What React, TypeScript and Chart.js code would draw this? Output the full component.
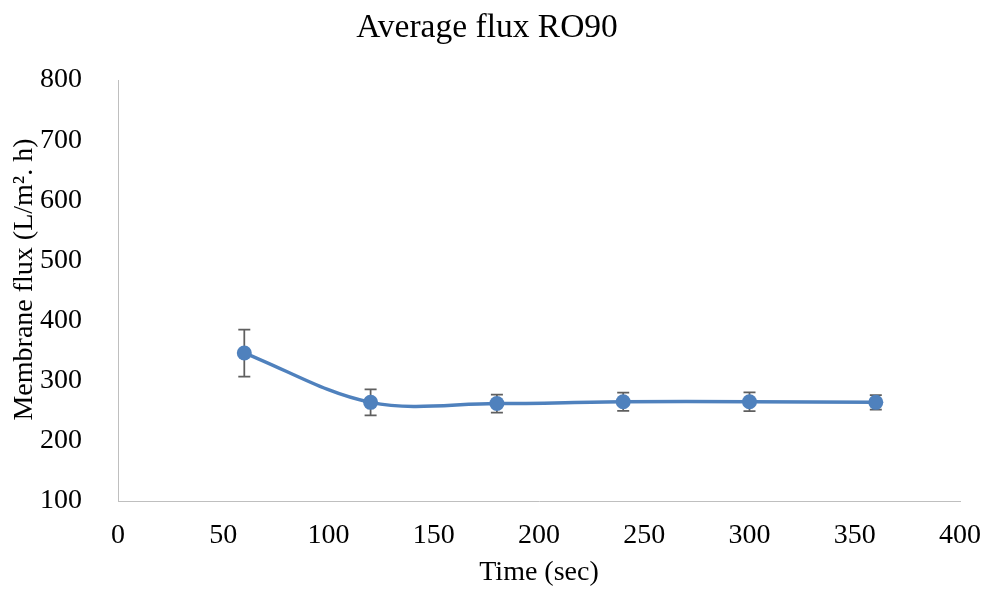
import React, { useEffect, useRef } from 'react';
import { Chart, registerables } from 'chart.js';

Chart.register(...registerables);

const chartTitle = 'Average flux RO90';
const xAxisTitle = 'Time (sec)';
const yAxisTitle = 'Membrane flux (L/m\u00B2. h)';
const timeSec = [60, 120, 180, 240, 300, 360];
const fluxMean = [346, 264, 262, 265, 265, 264];
const fluxErr = [39, 21.5, 15, 15, 15.5, 12];
const xMin = 0, xMax = 400, xStep = 50;
const yMin = 100, yMax = 800, yStep = 100;

const FONT = "'Liberation Serif', 'Times New Roman', serif";
const LINE_COLOR = '#4F81BD';
const ERR_COLOR = '#5f5f5f';
const AXIS_COLOR = '#BFBFBF';

const errorBarPlugin = {
  id: 'errorBars',
  beforeDatasetsDraw(chart: any) {
    const meta = chart.getDatasetMeta(0);
    const yScale = chart.scales.y;
    const ctx = chart.ctx;
    ctx.save();
    ctx.strokeStyle = ERR_COLOR;
    ctx.lineWidth = 1.75;
    meta.data.forEach((pt: any, i: number) => {
      const x = pt.x;
      const yTop = yScale.getPixelForValue(fluxMean[i] + fluxErr[i]);
      const yBot = yScale.getPixelForValue(fluxMean[i] - fluxErr[i]);
      const cap = 6;
      ctx.beginPath();
      ctx.moveTo(x, yTop);
      ctx.lineTo(x, yBot);
      ctx.moveTo(x - cap, yTop);
      ctx.lineTo(x + cap, yTop);
      ctx.moveTo(x - cap, yBot);
      ctx.lineTo(x + cap, yBot);
      ctx.stroke();
    });
    ctx.restore();
  },
};

const yTitlePlugin = {
  id: 'yTitle',
  afterDraw(chart: any) {
    const ctx = chart.ctx;
    const area = chart.chartArea;
    ctx.save();
    ctx.fillStyle = '#000';
    ctx.font = `28px ${FONT}`;
    ctx.textAlign = 'center';
    ctx.textBaseline = 'middle';
    ctx.translate(25, (area.top + area.bottom) / 2 - 11);
    ctx.rotate(-Math.PI / 2);
    ctx.fillText(yAxisTitle, 0, 0);
    ctx.restore();
  },
};

export default function App() {
  const ref = useRef<HTMLCanvasElement>(null);

  useEffect(() => {
    document.body.style.margin = '0';
    const canvas = ref.current;
    if (!canvas) return;
    const chart = new Chart(canvas, {
      type: 'line',
      data: {
        datasets: [
          {
            data: timeSec.map((t, i) => ({ x: t, y: fluxMean[i] })),
            borderColor: LINE_COLOR,
            backgroundColor: LINE_COLOR,
            borderWidth: 3.5,
            pointRadius: 7.5,
            pointBorderWidth: 0,
            pointBackgroundColor: LINE_COLOR,
            tension: 0.35,
            fill: false,
          },
        ],
      },
      options: {
        responsive: false,
        animation: false,
        devicePixelRatio: 1,
        layout: { padding: { left: 0, right: 10, top: 0, bottom: 0 } },
        plugins: {
          legend: { display: false },
          tooltip: { enabled: false },
          title: {
            display: true,
            text: chartTitle,
            color: '#000',
            font: { family: FONT, size: 33.5, weight: 'normal', lineHeight: 1.2 },
            padding: { top: 8, bottom: 31.8 },
            align: 'center',
          },
        },
        scales: {
          x: {
            type: 'linear',
            min: xMin,
            max: xMax,
            grid: { display: false, drawTicks: false },
            border: { display: true, color: AXIS_COLOR, width: 1 },
            ticks: {
              stepSize: xStep,
              color: '#000',
              font: { family: FONT, size: 28 },
              padding: 18,
              maxRotation: 0,
            },
            title: {
              display: true,
              text: xAxisTitle,
              color: '#000',
              font: { family: FONT, size: 28 },
              padding: { top: 0, bottom: 0 },
            },
            afterFit(scale: any) {
              scale.height = 88;
              scale.paddingRight = 24;
              scale.paddingLeft = 0;
            },
          },
          y: {
            type: 'linear',
            min: yMin,
            max: yMax,
            grid: { display: false, drawTicks: false },
            border: { display: true, color: AXIS_COLOR, width: 1 },
            ticks: {
              stepSize: yStep,
              color: '#000',
              font: { family: FONT, size: 28 },
              padding: 36,
            },
            afterFit(scale: any) {
              scale.width = 118;
            },
          },
        },
      },
      plugins: [errorBarPlugin, yTitlePlugin],
    });
    return () => chart.destroy();
  }, []);

  return (
    <div style={{ width: 984, height: 589, background: '#fff' }}>
      <canvas ref={ref} width={984} height={589} style={{ display: 'block' }} />
    </div>
  );
}
